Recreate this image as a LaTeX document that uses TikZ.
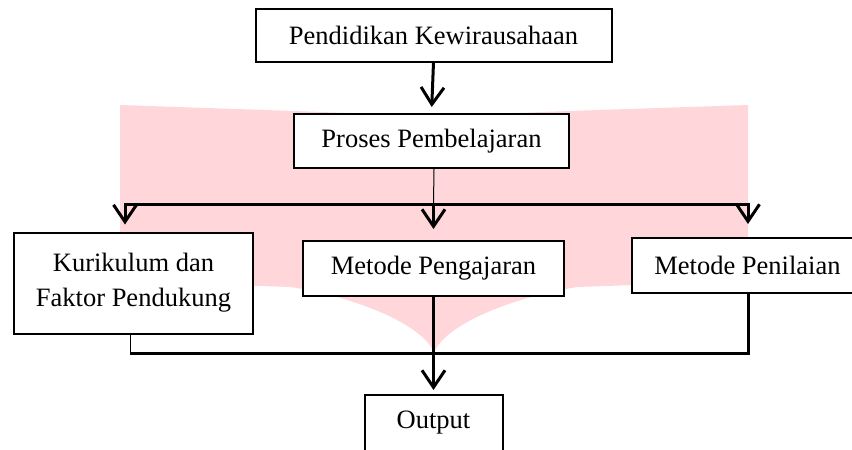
\documentclass[tikz,border=0pt]{standalone}
\usepackage{fontspec}
\setmainfont{Liberation Serif}
\usetikzlibrary{arrows.meta}
\definecolor{pinkc}{RGB}{255,215,219}
\begin{document}
\begin{tikzpicture}[x=1pt,y=-1pt,
  box/.style={draw,line width=2pt,fill=white,inner sep=0pt,align=center,
    font=\fontsize{26.5}{35}\selectfont},
  arr/.style={line width=3pt,-{Straight Barb[length=17pt,width=23pt]}},
  bus/.style={line width=3pt},
  thinline/.style={line width=1pt}]
\useasboundingbox (0,0) rectangle (852,450);
% pink background shape
\fill[pinkc] (120,105) -- (294,111) -- (433,116) -- (569,111) -- (748,105)
  -- (748,281) -- (578,287) .. controls (533,293) and (450,318) .. (434,352)
  .. controls (418,318) and (335,293) .. (290,287) -- (120,281) -- cycle;
% nodes
\node[box,minimum width=356pt,minimum height=53pt] (top) at (433.5,35) {Pendidikan Kewirausahaan};
\node[box,minimum width=275pt,minimum height=54pt] (proses) at (431.5,141) {Proses Pembelajaran};
\node[box,minimum width=239pt,minimum height=101pt] (kur) at (133.5,283) {Kurikulum dan\\Faktor Pendukung};
\node[box,minimum width=261pt,minimum height=55pt] (meth) at (433.5,268.5) {Metode Pengajaran};
\node[box,minimum width=232pt,minimum height=55pt] (pen) at (747.5,265.5) {Metode Penilaian};
\node[box,minimum width=138pt,minimum height=56pt] (out) at (433.5,423) {Output};
% helper coordinates
\coordinate (ms) at (434,0);
\coordinate (bM) at (433.5,204);
\coordinate (bL) at (125,204);
\coordinate (bR) at (748,204);
\coordinate (cL) at (130,353);
\coordinate (cR) at (748,353);
% connectors
\draw[arr,shorten >=6pt] (top.south) -- (proses.north);
\draw[thinline] (proses.south -| ms) -- (bM);
\draw[arr,shorten >=7pt] (bM) -| (kur.north -| bL);
\draw[arr,shorten >=13pt] (bM) -| (pen.north -| bR);
\draw[arr,shorten >=11pt] (bM) -- (meth.north);
\draw[thinline] (kur.south -| cL) -- (cL);
\draw[bus] (cL) -- (cR) -- (pen.south -| cR);
\draw[arr,shorten >=4pt] (meth.south) -- (out.north);
\end{tikzpicture}
\end{document}
